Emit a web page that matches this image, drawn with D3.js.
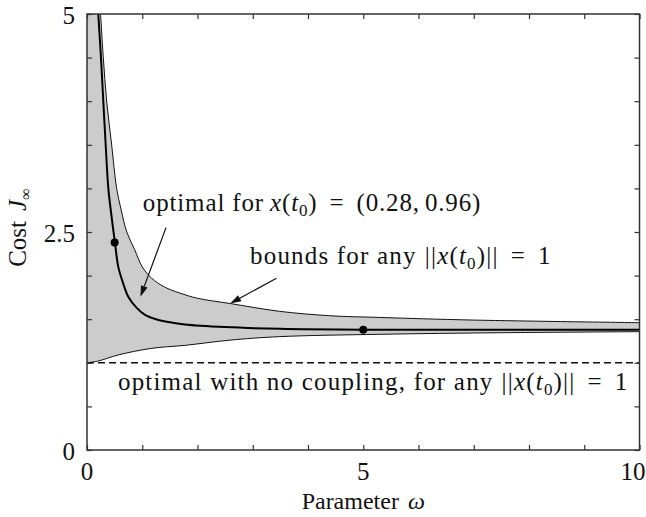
<!DOCTYPE html>
<html>
<head>
<meta charset="utf-8">
<script src="https://cdn.jsdelivr.net/npm/d3@7"></script>
<style>
  body { margin: 0; background: #fff; }
</style>
</head>
<body>
<div id="chart"></div>
<script>
var width = 646, height = 517;
var margin = {top: 14, right: 6, bottom: 67, left: 87};
var serif = "'Liberation Serif', 'Times New Roman', Times, serif";

// values (omega, cost)
var upperOmega = [0.246, 0.295, 0.356, 0.446, 0.537, 0.62, 0.72, 0.868, 1.0, 1.17, 1.4, 1.68, 2.0, 2.59, 3.49, 4.39, 5.3, 7.0, 10];
var upperCost  = [5.0, 4.5, 4.0, 3.5, 3.0, 2.75, 2.5, 2.29, 2.1, 1.97, 1.87, 1.8, 1.74, 1.68, 1.59, 1.54, 1.52, 1.49, 1.46];

var lowerOmega = [0, 0.2, 0.566, 1.17, 1.77, 2.59, 3.49, 5.3, 7.5, 10];
var lowerCost  = [1.0, 1.02, 1.09, 1.166, 1.2, 1.26, 1.3, 1.327, 1.345, 1.357];

var optOmega = [0.204, 0.253, 0.295, 0.338, 0.386, 0.44, 0.506, 0.566, 0.65, 0.747, 0.9, 1.05, 1.25, 1.5, 1.77, 2.5, 3.49, 5, 7.5, 10];
var optCost  = [5.0, 4.5, 4.0, 3.5, 3.0, 2.7, 2.377, 2.1, 1.92, 1.758, 1.63, 1.55, 1.5, 1.465, 1.44, 1.41, 1.39, 1.38, 1.38, 1.38];

var dotOmega = [0.5, 5];
var dotCost  = [2.38, 1.38];

var noCouplingCost = 1;

var xTicks = [0, 5, 10];
var yTicks = [0, 2.5, 5];

var svg = d3.select("#chart")
  .append("svg")
  .attr("width", width)
  .attr("height", height)
  .style("font-family", serif);

var xScale = d3.scaleLinear()
  .domain([0, 10])
  .range([margin.left, width - margin.right - 0.5]);

var yScale = d3.scaleLinear()
  .domain([0, 5])
  .range([height - margin.bottom, margin.top]);

svg.append("defs").append("clipPath")
  .attr("id", "plot-clip")
  .append("rect")
  .attr("x", xScale(0))
  .attr("y", yScale(5))
  .attr("width", xScale(10) - xScale(0))
  .attr("height", yScale(0) - yScale(5));

var upper = upperOmega.map((w, i) => [w, upperCost[i]]);
var lower = lowerOmega.map((w, i) => [w, lowerCost[i]]);
var opt = optOmega.map((w, i) => [w, optCost[i]]);

var line = d3.line()
  .x(d => xScale(d[0]))
  .y(d => yScale(d[1]))
  .curve(d3.curveCatmullRom.alpha(0.5));

var plot = svg.append("g").attr("clip-path", "url(#plot-clip)");

// gray band between the bounds
plot.append("path")
  .attr("d", "M" + xScale(0) + "," + yScale(5) + "L" + line(upper).slice(1) + "L" + line(lower.slice().reverse()).slice(1) + "Z")
  .style("fill", "#cccccc")
  .style("stroke", "none");

plot.append("path")
  .attr("d", line(upper))
  .style("fill", "none")
  .style("stroke", "#111")
  .style("stroke-width", 1);

plot.append("path")
  .attr("d", line(lower))
  .style("fill", "none")
  .style("stroke", "#111")
  .style("stroke-width", 1);

plot.append("line")
  .attr("x1", xScale(0))
  .attr("x2", xScale(10))
  .attr("y1", yScale(noCouplingCost))
  .attr("y2", yScale(noCouplingCost))
  .style("stroke", "#111")
  .style("stroke-width", 1.5)
  .style("stroke-dasharray", "7,4");

plot.append("path")
  .attr("d", line(opt))
  .style("fill", "none")
  .style("stroke", "#000")
  .style("stroke-width", 2);

plot.selectAll(".dot")
  .data(dotOmega)
  .enter()
  .append("circle")
  .attr("class", "dot")
  .attr("cx", d => xScale(d))
  .attr("cy", (d, i) => yScale(dotCost[i]))
  .attr("r", 4)
  .style("fill", "#000");

// axes with inward ticks on all four sides
var tickVals = d3.range(0, 10.01, 1);
var yTickVals = d3.range(0, 5.01, 0.5);
var axisColor = "#333";

svg.append("g")
  .attr("transform", `translate(0,${yScale(0)})`)
  .call(d3.axisBottom(xScale).tickValues(tickVals).tickSize(-5).tickFormat(""))
  .call(g => g.select(".domain").remove());
svg.append("g")
  .attr("transform", `translate(0,${yScale(5)})`)
  .call(d3.axisTop(xScale).tickValues(tickVals).tickSize(-5).tickFormat(""))
  .call(g => g.select(".domain").remove());
svg.append("g")
  .attr("transform", `translate(${xScale(0)},0)`)
  .call(d3.axisLeft(yScale).tickValues(yTickVals).tickSize(-5).tickFormat(""))
  .call(g => g.select(".domain").remove());
svg.append("g")
  .attr("transform", `translate(${xScale(10)},0)`)
  .call(d3.axisRight(yScale).tickValues(yTickVals).tickSize(-5).tickFormat(""))
  .call(g => g.select(".domain").remove());
svg.selectAll(".tick line").style("stroke", axisColor).style("stroke-width", 1.2);

svg.append("rect")
  .attr("x", xScale(0))
  .attr("y", yScale(5))
  .attr("width", xScale(10) - xScale(0))
  .attr("height", yScale(0) - yScale(5))
  .style("fill", "none")
  .style("stroke", axisColor)
  .style("stroke-width", 1.5);

// tick labels
svg.selectAll(".xlab")
  .data(xTicks)
  .enter()
  .append("text")
  .attr("x", d => d === 10 ? xScale(d) + 6 : xScale(d))
  .attr("y", yScale(0) + 30)
  .style("text-anchor", d => d === 10 ? "end" : "middle")
  .style("font-family", serif)
  .style("font-size", "25px")
  .style("fill", "#111")
  .text(d => d);

svg.selectAll(".ylab")
  .data(yTicks)
  .enter()
  .append("text")
  .attr("x", xScale(0) - 12)
  .attr("y", d => yScale(d) + 10)
  .style("text-anchor", "end")
  .style("font-family", serif)
  .style("font-size", "25px")
  .style("fill", "#111")
  .text(d => d);

// axis titles
var xt = svg.append("text")
  .attr("x", xScale(5))
  .attr("y", height - 8)
  .style("text-anchor", "middle")
  .style("font-family", serif)
  .style("font-size", "24px")
  .style("fill", "#111");
xt.append("tspan").text("Parameter ");
xt.append("tspan").attr("dx", 3).style("font-style", "italic").text("ω");

var yt = svg.append("text")
  .attr("transform", `translate(26,${yScale(2.55)}) rotate(-90)`)
  .style("text-anchor", "middle")
  .style("font-family", serif)
  .style("font-size", "25px")
  .style("fill", "#111");
yt.append("tspan").text("Cost");
yt.append("tspan").attr("dx", 10).style("font-style", "italic").text("J");
yt.append("tspan").attr("dy", 5).style("font-size", "16px").text("∞");

// annotations: [text, kind, dx]
function mathText(sel, parts) {
  parts.forEach(p => {
    var t = sel.append("tspan").text(p[0]);
    if (p[1] === "i") t.style("font-style", "italic");
    if (p[1] === "sub") t.attr("dy", 5).style("font-size", "17px");
    if (p[1] === "up") t.attr("dy", -5);
    if (p[2]) t.attr("dx", p[2]);
  });
}

// start/end in data units, so width follows the scale
function annot(w0, w1, c) {
  return svg.append("text")
    .attr("x", xScale(w0))
    .attr("y", yScale(c))
    .attr("textLength", xScale(w1) - xScale(w0))
    .attr("lengthAdjust", "spacing")
    .style("font-family", serif)
    .style("font-size", "25px")
    .style("fill", "#111");
}

var a1 = annot(1.01, 7.12, 2.74);
mathText(a1, [["optimal for", ""], ["x", "i", 6], ["(", ""], ["t", "i"], ["0", "sub"], [")", "up"], ["=", "", 12], ["(0.28,", "", 12], ["0.96)", "", 5]]);

var a2 = annot(2.95, 8.39, 2.13);
mathText(a2, [["bounds for any", ""], ["||", "", 8], ["x", "i"], ["(", ""], ["t", "i"], ["0", "sub"], [")||", "up"], ["=", "", 12], ["1", "", 12]]);

var a3 = annot(0.56, 9.78, 0.69);
mathText(a3, [["optimal with no coupling, for any", ""], ["||", "", 8], ["x", "i"], ["(", ""], ["t", "i"], ["0", "sub"], [")||", "up"], ["=", "", 12], ["1", "", 12]]);

// arrows: start and tip in data units
var arrowStart = [[1.43, 2.55], [3.43, 1.97]];
var arrowEnd = [[0.967, 1.758], [2.59, 1.68]];

arrowStart.forEach((s, i) => {
  var x1 = xScale(s[0]), y1 = yScale(s[1]);
  var x2 = xScale(arrowEnd[i][0]), y2 = yScale(arrowEnd[i][1]);
  var ang = Math.atan2(y2 - y1, x2 - x1);
  var len = 11, half = 3.5;
  var bx = x2 - len * Math.cos(ang), by = y2 - len * Math.sin(ang);
  svg.append("line")
    .attr("x1", x1).attr("y1", y1)
    .attr("x2", bx).attr("y2", by)
    .style("stroke", "#111")
    .style("stroke-width", 1.2);
  svg.append("path")
    .attr("d", `M${x2},${y2}L${bx + half * Math.sin(ang)},${by - half * Math.cos(ang)}L${bx - half * Math.sin(ang)},${by + half * Math.cos(ang)}Z`)
    .style("fill", "#111");
});
</script>
</body>
</html>
